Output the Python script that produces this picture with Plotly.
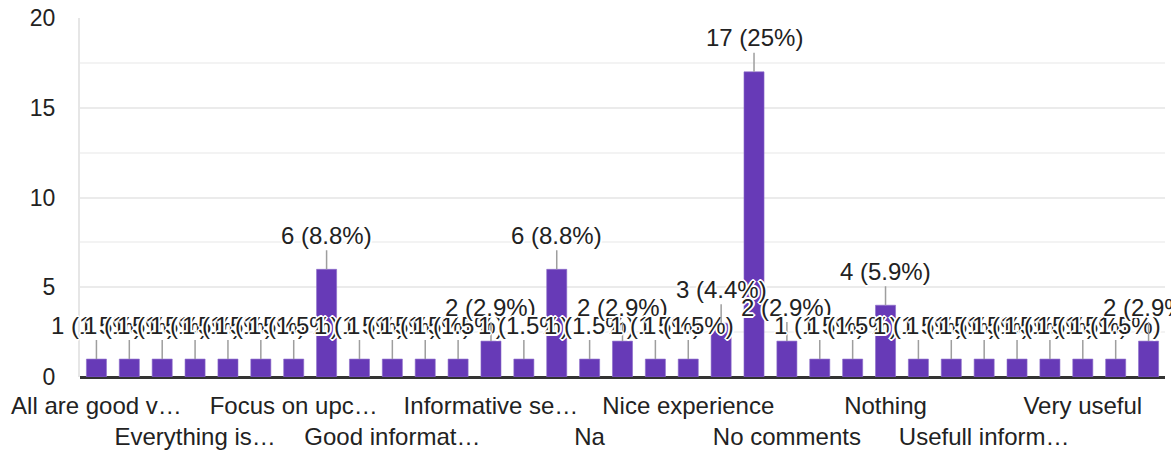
import plotly.graph_objects as go

categories = [
    "All are good videos", "Awesome", "Best", "Everything is good", "Excellent",
    "Fine", "Focus on upcoming", "Good", "Good content", "Good information",
    "Good session", "Helpful", "Informative session", "Interesting", "NA",
    "Na", "Nice", "Nice content", "Nice experience", "Nice session",
    "Nil", "No comments", "No suggestions", "None", "Nothing",
    "Ok", "Thank you", "Usefull information", "Valuable", "Very good",
    "Very useful", "Well explained", "Wonderful",
]
values = [1, 1, 1, 1, 1, 1, 1, 6, 1, 1,
          1, 1, 2, 1, 6, 1, 2, 1, 1, 3,
          17, 2, 1, 1, 4, 1, 1, 1, 1, 1,
          1, 1, 2]

tick_categories = ["All are good videos", "Everything is good", "Focus on upcoming",
                   "Good information", "Informative session", "Na", "Nice experience",
                   "No comments", "Nothing", "Usefull information", "Very useful"]
tick_labels = ["All are good v…", "Everything is…", "Focus on upc…", "Good informat…",
               "Informative se…", "Na", "Nice experience", "No comments", "Nothing",
               "Usefull inform…", "Very useful"]

y_ticks = [0, 5, 10, 15, 20]

FONT = "Arial, Liberation Sans, sans-serif"
total = sum(values)

def pct(v):
    p = round(v * 100 / total, 1)
    s = f"{p:.1f}"
    if s.endswith(".0"):
        s = s[:-2]
    return s

ticktext = []
for i, t in enumerate(tick_labels):
    ticktext.append(t if i % 2 == 0 else "\u00a0<br>" + t)

fig = go.Figure()
fig.add_trace(go.Bar(
    x=categories, y=values,
    marker=dict(color="#673ab7", line=dict(color="#8c6bc9", width=0.6)),
    hoverinfo="x+y",
))

shadow = ("2px 0 0 #fff, -2px 0 0 #fff, 0 2px 0 #fff, 0 -2px 0 #fff, "
          "1px 1px 0 #fff, -1px -1px 0 #fff, 1px -1px 0 #fff, -1px 1px 0 #fff")
annotations = []
for c, v in zip(categories, values):
    annotations.append(dict(
        x=c, y=v, xref="x", yref="y",
        text=f"{v} ({pct(v)}%)",
        showarrow=True, arrowhead=0, arrowwidth=1.5, arrowcolor="#9e9e9e",
        ax=0, ay=-34, standoff=0,
        font=dict(family=FONT, size=24, color="#222222", shadow=shadow),
    ))

fig.update_layout(
    width=1171, height=452,
    margin=dict(l=80, r=6, t=18, b=75, autoexpand=False),
    paper_bgcolor="white", plot_bgcolor="white",
    showlegend=False,
    bargap=0.39,
    annotations=annotations,
    font=dict(family=FONT, size=24, color="#222222"),
    xaxis=dict(
        range=[-0.5, len(categories) - 0.5],
        tickmode="array", tickvals=tick_categories, ticktext=ticktext,
        tickangle=0, showgrid=False, showline=False, ticks="",
        ticklabelstandoff=12, automargin=False,
        tickfont=dict(family=FONT, size=24, color="#222222"),
        fixedrange=True,
    ),
    yaxis=dict(
        range=[0, 20], tickvals=y_ticks,
        showgrid=True, gridcolor="#ebebeb", gridwidth=2,
        minor=dict(dtick=2.5, showgrid=True, gridcolor="#f3f3f3", gridwidth=1.5),
        showline=True, linecolor="#e6e6e6", linewidth=2,
        zeroline=True, zerolinecolor="#333333", zerolinewidth=3,
        ticks="", ticklabelstandoff=18, automargin=False,
        tickfont=dict(family=FONT, size=23, color="#222222"),
        fixedrange=True,
    ),
)

fig.write_html(
    "out.html",
    config={"displayModeBar": False},
    post_script="document.body.style.margin='0';document.body.style.overflow='hidden';",
)
